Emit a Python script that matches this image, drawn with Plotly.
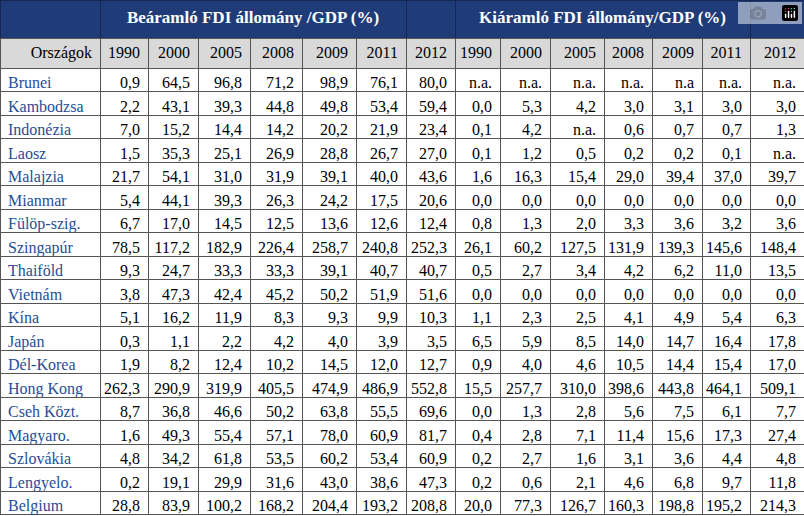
import plotly.graph_objects as go

countries = ["Brunei","Kambodzsa","Indonézia","Laosz","Malajzia","Mianmar","Fülöp-szig.","Szingapúr","Thaiföld","Vietnám","Kína","Japán","Dél-Korea","Hong Kong","Cseh Közt.","Magyaro.","Szlovákia","Lengyelo.","Belgium"]
years = ["1990","2000","2005","2008","2009","2011","2012"]
inward = [
["0,9","64,5","96,8","71,2","98,9","76,1","80,0"],
["2,2","43,1","39,3","44,8","49,8","53,4","59,4"],
["7,0","15,2","14,4","14,2","20,2","21,9","23,4"],
["1,5","35,3","25,1","26,9","28,8","26,7","27,0"],
["21,7","54,1","31,0","31,9","39,1","40,0","43,6"],
["5,4","44,1","39,3","26,3","24,2","17,5","20,6"],
["6,7","17,0","14,5","12,5","13,6","12,6","12,4"],
["78,5","117,2","182,9","226,4","258,7","240,8","252,3"],
["9,3","24,7","33,3","33,3","39,1","40,7","40,7"],
["3,8","47,3","42,4","45,2","50,2","51,9","51,6"],
["5,1","16,2","11,9","8,3","9,3","9,9","10,3"],
["0,3","1,1","2,2","4,2","4,0","3,9","3,5"],
["1,9","8,2","12,4","10,2","14,5","12,0","12,7"],
["262,3","290,9","319,9","405,5","474,9","486,9","552,8"],
["8,7","36,8","46,6","50,2","63,8","55,5","69,6"],
["1,6","49,3","55,4","57,1","78,0","60,9","81,7"],
["4,8","34,2","61,8","53,5","60,2","53,4","60,9"],
["0,2","19,1","29,9","31,6","43,0","38,6","47,3"],
["28,8","83,9","100,2","168,2","204,4","193,2","208,8"],
]
outward = [
["n.a.","n.a.","n.a.","n.a.","n.a","n.a.","n.a."],
["0,0","5,3","4,2","3,0","3,1","3,0","3,0"],
["0,1","4,2","n.a.","0,6","0,7","0,7","1,3"],
["0,1","1,2","0,5","0,2","0,2","0,1","n.a."],
["1,6","16,3","15,4","29,0","39,4","37,0","39,7"],
["0,0","0,0","0,0","0,0","0,0","0,0","0,0"],
["0,8","1,3","2,0","3,3","3,6","3,2","3,6"],
["26,1","60,2","127,5","131,9","139,3","145,6","148,4"],
["0,5","2,7","3,4","4,2","6,2","11,0","13,5"],
["0,0","0,0","0,0","0,0","0,0","0,0","0,0"],
["1,1","2,3","2,5","4,1","4,9","5,4","6,3"],
["6,5","5,9","8,5","14,0","14,7","16,4","17,8"],
["0,9","4,0","4,6","10,5","14,4","15,4","17,0"],
["15,5","257,7","310,0","398,6","443,8","464,1","509,1"],
["0,0","1,3","2,8","5,6","7,5","6,1","7,7"],
["0,4","2,8","7,1","11,4","15,6","17,3","27,4"],
["0,2","2,7","1,6","3,1","3,6","4,4","4,8"],
["0,2","0,6","2,1","4,6","6,8","9,7","11,8"],
["20,0","77,3","126,7","160,3","198,8","195,2","214,3"],
]
title_in = "Beáramló FDI állomány /GDP (%)"
title_out = "Kiáramló FDI állomány/GDP (%)"

W, H = 804, 516
navy = "#1f3c78"
widths = [100,48,50,52,52,54,50,49,45,50,54,48,50,48,54]
font = "Liberation Serif"

cols = [countries] + [[r[i] for r in inward] for i in range(7)] + [[r[i] for r in outward] for i in range(7)]
colors = [["#1f4e99"]*len(countries)] + [["black"]*len(countries)]*14
aligns = ["left"] + ["right"]*14

fig = go.Figure()
top_h = 38
fig.add_trace(go.Table(
    domain=dict(x=[0,1], y=[1-top_h/H, 1]),
    columnwidth=[100, sum(widths[1:7]), widths[7], sum(widths[8:14]), widths[14]],
    header=dict(values=["", "<b>"+title_in+"</b>", "", "<b>"+title_out+"</b>", ""],
                fill_color=navy, line_color="#16284f", height=top_h,
                font=dict(family=font, size=17, color="white"), align="center"),
    cells=dict(values=[[],[],[],[],[]], height=1)))
fig.add_trace(go.Table(
    domain=dict(x=[0,1], y=[0, 1-top_h/H]),
    columnwidth=widths,
    header=dict(values=["Országok"]+years+years, fill_color="#d9d9d9", line_color="#555555",
                height=30, font=dict(family=font, size=16, color="black"), align="right"),
    cells=dict(values=cols, fill_color="white", line_color="#555555", height=23.5,
               font=dict(family=font, size=16, color=colors), align=aligns)))
fig.update_layout(width=W, height=H, margin=dict(l=0,r=0,t=0,b=0), paper_bgcolor="white")
fig.write_html("out.html", post_script="document.body.style.margin='0';")
